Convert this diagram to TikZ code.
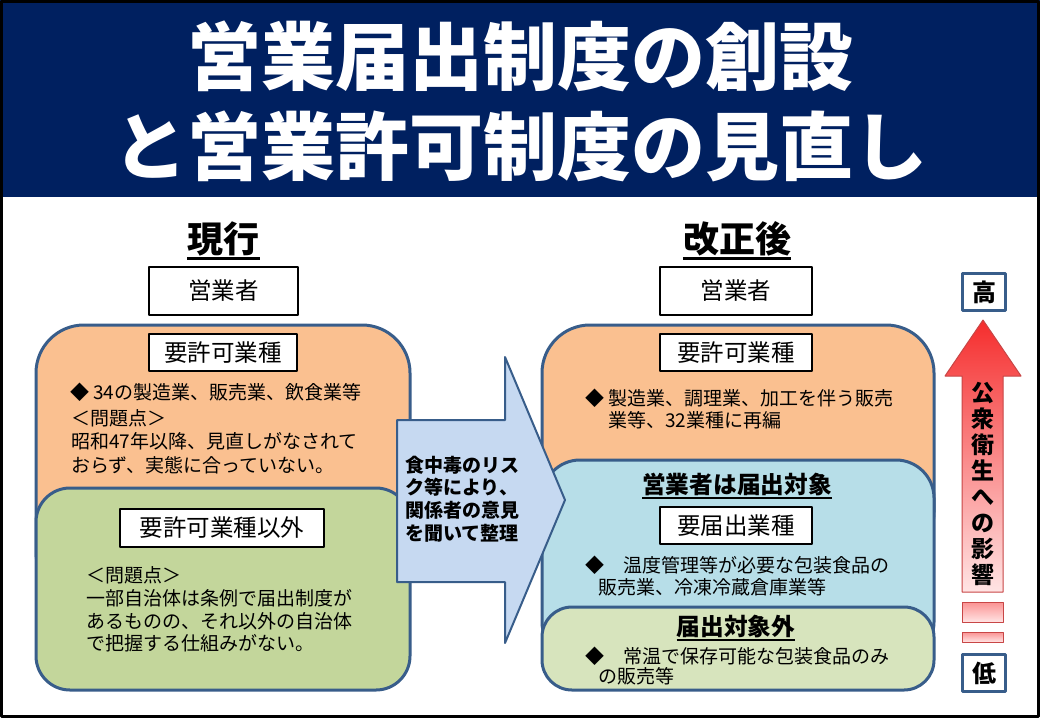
\documentclass[tikz,border=0pt]{standalone}
\usepackage{fontspec}
\setmainfont{Noto Sans CJK JP}
\usepackage{tikz}
\definecolor{navy}{RGB}{0,32,96}
\definecolor{edge}{RGB}{56,93,138}
\definecolor{orng}{RGB}{250,192,144}
\definecolor{olive}{RGB}{195,214,155}
\definecolor{aqua}{RGB}{183,222,232}
\definecolor{pale}{RGB}{215,228,189}
\definecolor{arrblue}{RGB}{198,217,241}
\definecolor{redtop}{RGB}{245,45,45}
\definecolor{redbot}{RGB}{255,228,228}
\definecolor{redline}{RGB}{200,70,70}

\begin{document}
\begin{tikzpicture}[x=1pt, y=-1pt, line join=round,
  lbox/.style={draw=black, line width=2pt, fill=white, inner sep=0pt, font=\fontsize{23.5}{26}\selectfont},
  txt/.style={anchor=west, inner sep=0pt, align=left, font=\fontsize{19}{23.5}\selectfont},
  hd/.style={anchor=base, inner sep=0pt, font=\bfseries\fontsize{36}{40}\selectfont},
  subhd/.style={anchor=base, inner sep=0pt, font=\bfseries\fontsize{23.7}{26}\selectfont},
  panel/.style={draw=edge, line width=3pt},
  lvl/.style={draw=edge, line width=3pt, fill=white, minimum width=43pt, minimum height=37pt, inner sep=0pt, font=\bfseries\fontsize{24}{26}\selectfont},
  pinkbar/.style={draw=redline, line width=1pt, top color=redtop!45!redbot, bottom color=redbot}]

\useasboundingbox (0,0) rectangle (1040,720);
\fill[white] (0,0) rectangle (1040,720);
\fill[navy] (0,0) rectangle (1040,197);
\draw[line width=3pt] (1.5,1.5) rectangle (1038.5,716.5);

\node[text=white, align=center, inner sep=0pt, font=\bfseries\fontsize{74}{90}\selectfont] (T) at (520,101) {営業届出制度の創設\\と営業許可制度の見直し};

\node[hd] (L0) at (223.5,252.5) {現行};
\node[hd] (R0) at (737,252.5) {改正後};
\draw[line width=2.5pt] ([yshift=-6pt]L0.base west) -- ([yshift=-6pt]L0.base east);
\draw[line width=2.5pt] ([yshift=-6pt]R0.base west) -- ([yshift=-6pt]R0.base east);

\draw[panel, fill=orng, rounded corners=48pt] (36,325) rectangle (410,600);
\draw[panel, fill=olive, rounded corners=34pt] (36,488) rectangle (410,690);
\draw[panel, fill=orng, rounded corners=48pt] (542,325) rectangle (934,560);
\draw[panel, fill=aqua, rounded corners=38pt] (542,460) rectangle (934,660);
\draw[panel, fill=pale, rounded corners=30pt] (542,607) rectangle (934,690);

\node[lbox, minimum width=149pt, minimum height=48pt] (L1) at (223.5,291) {営業者};
\node[lbox, minimum width=148pt, minimum height=37pt] (L2) at (223,352.5) {要許可業種};
\node[lbox, minimum width=204pt, minimum height=38pt] (L5) at (222,528) {要許可業種以外};
\node[lbox, minimum width=152pt, minimum height=48pt] (R1) at (736,291) {営業者};
\node[lbox, minimum width=152pt, minimum height=37pt] (R2) at (736,352.5) {要許可業種};
\node[lbox, minimum width=152pt, minimum height=37pt] (R4) at (736,525.5) {要届出業種};

\node[txt] (L3) at (70,392) {◆ 34の製造業、販売業、飲食業等};
\node[txt] (L4) at (71,441.5) {＜問題点＞\\昭和47年以降、見直しがなされて\\おらず、実態に合っていない。};
\node[txt, font=\fontsize{19}{22.7}\selectfont] (L6) at (86,609.5) {＜問題点＞\\一部自治体は条例で届出制度が\\あるものの、それ以外の自治体\\で把握する仕組みがない。};

\node[txt, font=\fontsize{19}{22}\selectfont] (R3) at (585,409) {◆ 製造業、調理業、加工を伴う販売\\\hspace*{23pt}業等、32業種に再編};
\node[subhd] (R5) at (737,493.5) {営業者は届出対象};
\draw[line width=2pt] ([yshift=-4.5pt]R5.base west) -- ([yshift=-4.5pt]R5.base east);
\node[txt, font=\fontsize{19}{22}\selectfont] (R6) at (585,576) {◆　温度管理等が必要な包装食品の\\\hspace*{13pt}販売業、冷凍冷蔵倉庫業等};
\node[subhd] (R7) at (736,635.5) {届出対象外};
\draw[line width=2pt] ([yshift=-4.5pt]R7.base west) -- ([yshift=-4.5pt]R7.base east);
\node[txt, font=\fontsize{19}{20}\selectfont] (R8) at (585,666.5) {◆　常温で保存可能な包装食品のみ\\\hspace*{13pt}の販売等};

\draw[draw=edge, line width=2pt, fill=arrblue] (397,420) -- (505,420) -- (505,357) -- (565,500) -- (505,643) -- (505,582) -- (397,582) -- cycle;
\node[txt, font=\bfseries\fontsize{19}{22.8}\selectfont] (M) at (405,499) {食中毒のリス\\ク等により、\\関係者の意見\\を聞いて整理};

\node[lvl] (Hi) at (984,292) {高};
\node[lvl] (Lo) at (984,673) {低};
\draw[draw=redline, line width=1pt, top color=redtop, bottom color=redbot] (983,320) -- (1021,376) -- (1003,376) -- (1003,592) -- (962,592) -- (962,376) -- (945,376) -- cycle;
\node[align=center, inner sep=0pt, font=\bfseries\fontsize{23}{26}\selectfont] (V) at (982.5,483.5) {公\\衆\\衛\\生\\へ\\の\\影\\響};
\draw[pinkbar] (962,602) rectangle (1003,622);
\draw[pinkbar] (962,632) rectangle (1003,642);

\end{tikzpicture}
\end{document}
